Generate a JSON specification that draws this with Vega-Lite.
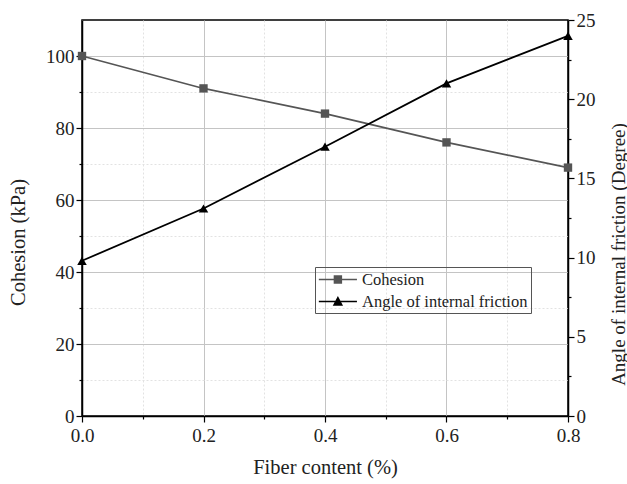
{
  "$schema": "https://vega.github.io/schema/vega-lite/v6.json",
  "width": 486,
  "height": 396,
  "autosize": "none",
  "padding": {"left": 82, "top": 20, "right": 59, "bottom": 68},
  "background": "white",
  "config": {
    "font": "Liberation Serif",
    "view": {"stroke": "black", "strokeWidth": 1.5},
    "axis": {
      "domainColor": "black",
      "domainWidth": 1.5,
      "tickColor": "black",
      "tickWidth": 1.2,
      "labelFont": "Liberation Serif",
      "labelFontSize": 19,
      "labelColor": "#222",
      "titleFont": "Liberation Serif",
      "titleFontSize": 20.5,
      "titleFontWeight": "normal",
      "titleColor": "#222"
    }
  },
  "data": {
    "values": [
      {"fiber": 0.0, "series": "Cohesion", "value": 100},
      {"fiber": 0.2, "series": "Cohesion", "value": 91},
      {"fiber": 0.4, "series": "Cohesion", "value": 84},
      {"fiber": 0.6, "series": "Cohesion", "value": 76},
      {"fiber": 0.8, "series": "Cohesion", "value": 69},
      {"fiber": 0.0, "series": "Angle of internal friction", "value": 9.8},
      {"fiber": 0.2, "series": "Angle of internal friction", "value": 13.1},
      {"fiber": 0.4, "series": "Angle of internal friction", "value": 17},
      {"fiber": 0.6, "series": "Angle of internal friction", "value": 21},
      {"fiber": 0.8, "series": "Angle of internal friction", "value": 24}
    ]
  },
  "encoding": {
    "x": {
      "field": "fiber",
      "type": "quantitative",
      "scale": {"domain": [0, 0.8], "nice": false},
      "axis": {
        "title": "Fiber content (%)",
        "titleX": 243,
        "titleY": 51,
        "titleAlign": "center",
        "titleBaseline": "middle",
        "values": [0, 0.1, 0.2, 0.3, 0.4, 0.5, 0.6, 0.7, 0.8],
        "format": ".1f",
        "labelFlush": false,
        "labelExpr": "round(datum.value*10) % 2 == 0 ? datum.label : ''",
        "labelPadding": 4,
        "grid": true,
        "gridColor": {"condition": {"test": "round(datum.value*10) % 2 == 1", "value": "#e2e2e2"}, "value": "#c4c4c4"},
        "gridDash": {"condition": {"test": "round(datum.value*10) % 2 == 1", "value": [2, 2]}, "value": []},
        "tickSize": {"condition": {"test": "round(datum.value*10) % 2 == 1", "value": 3}, "value": 6}
      }
    },
    "color": {
      "field": "series",
      "type": "nominal",
      "scale": {"domain": ["Cohesion", "Angle of internal friction"], "range": ["#555555", "#000000"]},
      "legend": {
        "title": null,
        "orient": "none",
        "legendX": 233,
        "legendY": 247,
        "direction": "vertical",
        "strokeColor": "#555",
        "padding": 3,
        "rowPadding": 4,
        "labelFont": "Liberation Serif",
        "labelFontSize": 16.5,
        "labelColor": "#222",
        "labelLimit": 400,
        "labelOffset": 25,
        "symbolSize": 300,
        "symbolStrokeWidth": 1.5,
        "symbolType": "M-1,0H3.4",
        "encode": {
          "symbols": {
            "update": {
              "shape": {"signal": "datum.value == 'Cohesion' ? 'M-1,0H3.4M0.8,-0.4H1.6V0.4H0.8Z' : 'M-1,0H3.4M1.2,-0.45L1.65,0.4H0.75Z'"},
              "fill": {"signal": "datum.value == 'Cohesion' ? '#555555' : '#000000'"},
              "stroke": {"signal": "datum.value == 'Cohesion' ? '#555555' : '#000000'"},
              "opacity": {"value": 1},
              "fillOpacity": {"value": 1}
            }
          }
        }
      }
    }
  },
  "layer": [
    {
      "transform": [{"filter": "datum.series == 'Cohesion'"}],
      "encoding": {
        "y": {
          "field": "value",
          "type": "quantitative",
          "scale": {"domain": [0, 110], "nice": false},
          "axis": {
            "title": "Cohesion (kPa)",
            "titleAngle": 270,
            "titleX": -64,
            "titleY": 222,
            "titleAlign": "center",
            "titleBaseline": "middle",
            "values": [0, 10, 20, 30, 40, 50, 60, 70, 80, 90, 100],
            "labelExpr": "datum.value % 20 == 0 ? datum.label : ''",
            "grid": true,
            "gridColor": {"condition": {"test": "datum.value % 20 == 10", "value": "#e2e2e2"}, "value": "#c4c4c4"},
            "gridDash": {"condition": {"test": "datum.value % 20 == 10", "value": [2, 2]}, "value": []},
            "tickSize": {"condition": {"test": "datum.value % 20 == 10", "value": 3}, "value": 6}
          }
        }
      },
      "layer": [
        {"mark": {"type": "line", "strokeWidth": 1.6}},
        {"mark": {"type": "point", "shape": "square", "filled": true, "size": 70, "opacity": 1}}
      ]
    },
    {
      "transform": [{"filter": "datum.series == 'Angle of internal friction'"}],
      "encoding": {
        "y": {
          "field": "value",
          "type": "quantitative",
          "scale": {"domain": [0, 25], "nice": false},
          "axis": {
            "orient": "right",
            "title": "Angle of internal friction (Degree)",
            "titleFontSize": 19,
            "titleAngle": 270,
            "titleX": 50,
            "titleY": 234,
            "titleAlign": "center",
            "titleBaseline": "middle",
            "values": [0, 2.5, 5, 7.5, 10, 12.5, 15, 17.5, 20, 22.5, 25],
            "labelExpr": "datum.value % 5 == 0 ? datum.label : ''",
            "grid": false,
            "tickSize": {"condition": {"test": "datum.value % 5 != 0", "value": 3}, "value": 6}
          }
        }
      },
      "layer": [
        {"mark": {"type": "line", "strokeWidth": 1.8}},
        {"mark": {"type": "point", "shape": "triangle-up", "filled": true, "size": 90, "opacity": 1}}
      ]
    }
  ],
  "resolve": {"scale": {"y": "independent"}}
}
